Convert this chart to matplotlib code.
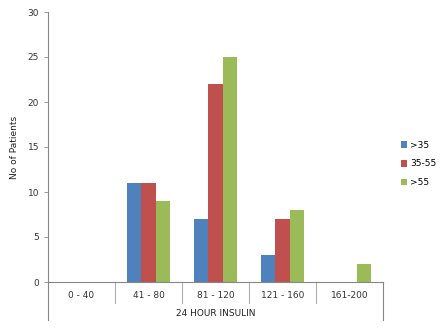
import numpy as np
import matplotlib.pyplot as plt

# --------------------------------------------------------------------------- #
# Data
# --------------------------------------------------------------------------- #
categories = ['0 - 40', '41 - 80', '81 - 120', '121 - 160', '161-200']
series = ['>35', '35-55', '>55']
vals_lt35 = [0, 11, 7, 3, 0]
vals_35_55 = [0, 11, 22, 7, 0]
vals_gt55 = [0, 9, 25, 8, 2]
colors = ['#4F81BD', '#C0504D', '#9BBB59']

# --------------------------------------------------------------------------- #
# Plot
# --------------------------------------------------------------------------- #
fig = plt.figure(figsize=(4.44, 3.29), dpi=100)
W, H = 444.0, 329.0
ax = fig.add_axes([48/W, 1-282/H, (383-48)/W, (282-12)/H])

x = np.arange(len(categories))
bw = 0.21
for i, (s, v) in enumerate(zip(series, [vals_lt35, vals_35_55, vals_gt55])):
  v = np.array(v, dtype=float)
  ax.bar(x + (i-1)*bw, v, width=bw, color=colors[i], label=s, linewidth=0)

ax.set_xlim(-0.5, len(categories)-0.5)
ax.set_ylim(0, 30)
ax.set_yticks(np.arange(0, 31, 5))
ax.tick_params(axis='y', labelsize=6.5, length=3, width=0.6, color='#868686', labelcolor='#333333')
ax.set_xticks([])
for sp in ['top', 'right']:
  ax.spines[sp].set_visible(False)
for sp in ['left', 'bottom']:
  ax.spines[sp].set_color('#868686')
  ax.spines[sp].set_linewidth(0.8)

ax.set_ylabel('No of Patients', fontsize=6.5, color='#222222', labelpad=6)

# Multi-level category axis
trans = ax.get_xaxis_transform()
lab_y = -14/270.0
for i, c in enumerate(categories):
  ax.text(i, lab_y, c, transform=trans, ha='center', va='center', fontsize=6.5, color='#333333')
for b in np.arange(0.5, len(categories)-0.5, 1):
  ax.plot([b, b], [0, -21/270.0], transform=trans, color='#B0B0B0', lw=0.8, clip_on=False)
for b in [-0.5, len(categories)-0.5]:
  ax.plot([b, b], [0, -38/270.0], transform=trans, color='#868686', lw=0.8, clip_on=False)
ax.text((len(categories)-1)/2.0, -31/270.0, '24 HOUR INSULIN', transform=trans,
        ha='center', va='center', fontsize=6.5, color='#222222')

leg = fig.legend(loc='center left', bbox_to_anchor=(393/W, 1-164/H), frameon=False,
                 fontsize=6.5, handlelength=0.7, handleheight=0.7, handletextpad=0.3,
                 labelspacing=1.1)

plt.savefig('out.png', dpi=100)
